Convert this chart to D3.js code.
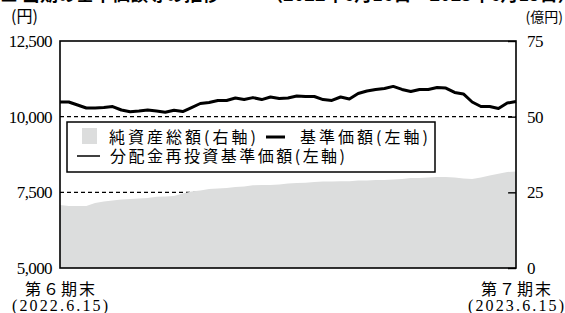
<!DOCTYPE html>
<html>
<head>
<meta charset="utf-8">
<script src="https://cdn.jsdelivr.net/npm/d3@7"></script>
<style>
  body { margin: 0; background: #fff; }
  svg { display: block; }
</style>
</head>
<body>
<div id="chart"></div>
<script>
// weekly points, 2022.6.15 -> 2023.6.15
const navValues = [10485, 10485, 10385, 10285, 10290, 10300, 10335, 10220, 10165, 10185,
  10220, 10185, 10145, 10210, 10170, 10300, 10435, 10470, 10535, 10535,
  10615, 10565, 10630, 10565, 10650, 10600, 10615, 10680, 10665, 10665,
  10565, 10535, 10650, 10585, 10765, 10850, 10900, 10930, 11000, 10900,
  10830, 10900, 10900, 10965, 10945, 10800, 10750, 10485, 10335, 10335,
  10270, 10450, 10500]
// 分配金なし → 基準価額と同じ
const reinvestValues = navValues.slice()
const netAssets = [20.8, 20.5, 20.5, 20.5, 21.5, 22.0, 22.3, 22.6, 22.8, 23.0,
  23.1, 23.5, 23.6, 23.8, 24.6, 25.3, 25.6, 26.1, 26.3, 26.4,
  26.8, 26.9, 27.3, 27.4, 27.4, 27.6, 27.9, 28.1, 28.2, 28.4,
  28.6, 28.6, 28.7, 28.7, 28.9, 28.9, 29.1, 29.1, 29.2, 29.4,
  29.7, 29.7, 29.9, 30.1, 30.1, 29.9, 29.6, 29.4, 29.9, 30.6,
  31.1, 31.7, 31.9]
const leftTicks = [5000, 7500, 10000, 12500]
const rightTicks = [0, 25, 50, 75]
const startLabel = ["第６期末", "(2022.6.15)"]
const endLabel = ["第７期末", "(2023.6.15)"]

const width = 565, height = 313
const margin = {top: 41, right: 49, bottom: 45, left: 60}
const jp = "'Noto Sans CJK JP', sans-serif"
const num = "'Liberation Serif', serif"

const svg = d3.select("#chart").append("svg")
    .attr("width", width)
    .attr("height", height)

const x = d3.scaleLinear()
    .domain([0, navValues.length - 1])
    .range([margin.left, width - margin.right])
const yL = d3.scaleLinear()
    .domain([5000, 12500])
    .range([height - margin.bottom, margin.top])
const yR = d3.scaleLinear()
    .domain([0, 75])
    .range([height - margin.bottom, margin.top])

// title, mostly cut off at the top edge
svg.append("text")
    .attr("x", 0).attr("y", 1)
    .attr("font-family", jp).attr("font-size", 18).attr("font-weight", 700)
    .text("■ 当期の基準価額等の推移　　　（2022年6月16日～2023年6月15日）")

// dashed reference lines
svg.append("g")
    .selectAll("line")
    .data([7500, 10000])
    .join("line")
    .attr("x1", margin.left).attr("x2", width - margin.right)
    .attr("y1", d => yL(d)).attr("y2", d => yL(d))
    .attr("stroke", "#000").attr("stroke-width", 1.2)
    .attr("stroke-dasharray", "4,3")

// net assets area
svg.append("path")
    .datum(netAssets)
    .attr("fill", "#dcdddd")
    .attr("d", d3.area()
        .x((d, i) => x(i))
        .y0(yR(0))
        .y1(d => yR(d)))

// reinvested NAV (thin) and NAV (thick)
svg.append("path")
    .datum(reinvestValues)
    .attr("fill", "none").attr("stroke", "#000").attr("stroke-width", 1.2)
    .attr("d", d3.line().x((d, i) => x(i)).y(d => yL(d)))
svg.append("path")
    .datum(navValues)
    .attr("fill", "none").attr("stroke", "#000").attr("stroke-width", 3)
    .attr("stroke-linejoin", "round")
    .attr("d", d3.line().x((d, i) => x(i)).y(d => yL(d)))

// frame
svg.append("rect")
    .attr("x", margin.left).attr("y", margin.top)
    .attr("width", width - margin.left - margin.right)
    .attr("height", height - margin.top - margin.bottom)
    .attr("fill", "none").attr("stroke", "#000").attr("stroke-width", 1.6)

// axes
const gl = svg.append("g")
    .attr("transform", `translate(${margin.left},0)`)
    .call(d3.axisLeft(yL).tickValues(leftTicks).tickSize(0).tickPadding(8).tickFormat(d3.format(",")))
const gr = svg.append("g")
    .attr("transform", `translate(${width - margin.right},0)`)
    .call(d3.axisRight(yR).tickValues(rightTicks).tickSize(-8).tickPadding(11))
for (const g of [gl, gr]) {
  g.select(".domain").remove()
  g.selectAll(".tick line").attr("stroke", "#000").attr("stroke-width", 1.4)
  g.selectAll("text")
      .attr("font-family", num).attr("font-size", 17)
      .attr("letter-spacing", -0.6).attr("fill", "#000")
}

// unit labels
svg.append("text").attr("x", 11).attr("y", 22)
    .attr("font-family", jp).attr("font-size", 16).text("(円)")
svg.append("text").attr("x", 563).attr("y", 22).attr("text-anchor", "end")
    .attr("font-family", jp).attr("font-size", 14).text("(億円)")

// period labels
const periods = [[0, startLabel], [navValues.length - 1, endLabel]]
for (const [i, lab] of periods) {
  svg.append("text").attr("x", x(i)).attr("y", 295)
      .attr("text-anchor", "middle").attr("font-family", jp).attr("font-size", 16)
      .attr("textLength", 70).attr("lengthAdjust", "spacing")
      .text(lab[0])
  svg.append("text").attr("x", x(i)).attr("y", 311)
      .attr("text-anchor", "middle").attr("font-family", num).attr("font-size", 16)
      .attr("textLength", 96).attr("lengthAdjust", "spacing")
      .text(lab[1])
}

// legend
const lg = svg.append("g")
lg.append("rect")
    .attr("x", 67).attr("y", 122).attr("width", 368).attr("height", 50)
    .attr("fill", "#fff").attr("stroke", "#000").attr("stroke-width", 1.5)
lg.append("rect")
    .attr("x", 82).attr("y", 128).attr("width", 15).attr("height", 16)
    .attr("fill", "#dcdddd")
lg.append("line")
    .attr("x1", 266).attr("x2", 285).attr("y1", 137).attr("y2", 137)
    .attr("stroke", "#000").attr("stroke-width", 3)
lg.append("line")
    .attr("x1", 77).attr("x2", 100).attr("y1", 156).attr("y2", 156)
    .attr("stroke", "#000").attr("stroke-width", 1.5)
const legendTexts = [
  {x: 109, y: 143, t: "純資産総額(右軸)", w: 147},
  {x: 300, y: 143, t: "基準価額(左軸)", w: 128},
  {x: 110, y: 162, t: "分配金再投資基準価額(左軸)", w: 235}
]
lg.selectAll("text.leg")
    .data(legendTexts)
    .join("text")
    .attr("class", "leg")
    .attr("x", d => d.x).attr("y", d => d.y)
    .attr("font-family", jp).attr("font-size", 16)
    .attr("textLength", d => d.w).attr("lengthAdjust", "spacing")
    .text(d => d.t)
</script>
</body>
</html>
